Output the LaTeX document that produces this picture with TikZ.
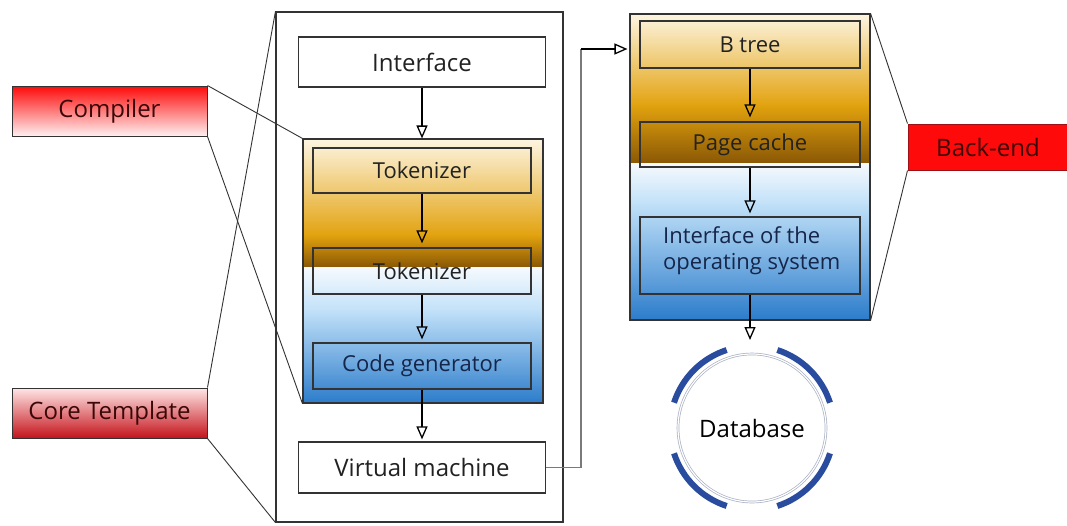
\documentclass[tikz,border=0pt]{standalone}
\usepackage{fontspec}
\setmainfont{Open Sans}
\usetikzlibrary{arrows.meta}
\definecolor{cream}{HTML}{FDF5E2}
\definecolor{gold}{HTML}{E2A20E}
\definecolor{brownish}{HTML}{8A5805}
\definecolor{paleblue}{HTML}{F6FAFE}
\definecolor{lightblue}{HTML}{C0E0F8}
\definecolor{midblue}{HTML}{2C7CCB}
\definecolor{txt}{HTML}{222222}
\definecolor{navytxt}{HTML}{16264A}
\definecolor{redtxt}{HTML}{3A0808}
\definecolor{bered}{HTML}{FF0A0A}
\definecolor{darkred}{HTML}{C4141C}
\definecolor{edge}{HTML}{333333}
\definecolor{ringgray}{HTML}{A8B0C2}
\definecolor{arcblue}{HTML}{2A4C9E}
\definecolor{linkgray}{HTML}{7A7A7A}
\begin{document}
\begin{tikzpicture}[x=1pt,y=-1pt,
  font=\fontsize{24}{28}\selectfont,
  box/.style={draw=edge, line width=1.2pt, text=txt, inner sep=0pt},
  smalltext/.style={font=\fontsize{22}{26}\selectfont},
  frame/.style={draw=edge, line width=1.1pt, inner sep=0pt},
  thin/.style={draw=edge, line width=0.9pt},
  arr/.style={draw=black, line width=1.7pt, -{Triangle[open, length=13pt, width=11pt, line width=1.3pt]}},
  label/.style={draw=edge, line width=1pt, inner sep=0pt, text=redtxt, minimum width=195pt, minimum height=50pt}
]
\useasboundingbox (0,0) rectangle (1067,525);
\fill[white] (0,0) rectangle (1067,525);

% ---- backgrounds of the two containers
\shade[top color=cream, bottom color=gold] (303,139) rectangle (543,236);
\shade[top color=gold, bottom color=brownish] (303,235) rectangle (543,267);
\shade[top color=paleblue, bottom color=lightblue] (303,267) rectangle (543,312);
\shade[top color=lightblue, bottom color=midblue] (303,311) rectangle (543,403);

\shade[top color=cream, bottom color=gold] (630,14) rectangle (870,106);
\shade[top color=gold, bottom color=brownish] (630,105) rectangle (870,163);
\shade[top color=paleblue, bottom color=lightblue] (630,163) rectangle (870,205);
\shade[top color=lightblue, bottom color=midblue] (630,204) rectangle (870,320);

% ---- containers
\node[frame, minimum width=287pt, minimum height=510pt] (big) at (419.5,267) {};
\node[frame, minimum width=240pt, minimum height=264pt] (fe) at (423,271) {};
\node[frame, minimum width=240pt, minimum height=306pt] (rc) at (750,167) {};

% ---- left column boxes
\node[box, minimum width=247pt, minimum height=50pt] (iface) at (422,62) {Interface};
\node[box, smalltext, minimum width=218pt, minimum height=45pt] (tok1) at (422,170.5) {Tokenizer};
\node[box, smalltext, minimum width=218pt, minimum height=46pt] (tok2) at (422,271) {Tokenizer};
\node[box, smalltext, text=navytxt, minimum width=218pt, minimum height=46pt] (cg) at (422,366) {Code generator};
\node[box, minimum width=247pt, minimum height=51pt] (vm) at (422,467.5) {Virtual machine};

% ---- right column boxes
\node[box, smalltext, minimum width=220pt, minimum height=47pt] (bt) at (750,44.5) {B tree};
\node[box, smalltext, minimum width=220pt, minimum height=45pt] (pc) at (750,144.5) {Page cache};
\node[box, smalltext, text=navytxt, minimum width=220pt, minimum height=77pt] (os) at (750,255.5) {};
\node[smalltext, text=navytxt, anchor=west, align=left, inner sep=0pt] (ostext) at (663,251) {Interface of the\\operating system};

% ---- labels
\node[label, top color=bered, bottom color=white!94!red] (comp) at (109.5,111) {Compiler};
\node[label, top color=white!90!red, bottom color=darkred] (core) at (109.5,413) {Core Template};
\node[label, draw=darkred!80!black, fill=bered, minimum width=160pt, minimum height=46pt] (be) at (988,147) {Back-end};

% ---- database
\node[circle, minimum size=148pt, inner sep=0pt] (db) at (752,428) {Database};
\draw[ringgray, line width=0.7pt, double=white, double distance=1.2pt] (db.center) circle (74);
\foreach \a in {18,108,198,288}
  \draw[arcblue, line width=6pt] ([shift={(\a:82)}]db.center) arc[start angle=\a, end angle=\a+54, radius=82];
\coordinate (dbtop) at ([yshift=88pt]db.center);

% ---- funnel lines
\draw[thin] (comp.north east) -- (fe.north west);
\draw[thin] (comp.south east) -- (fe.south west);
\draw[thin] (core.north east) -- (big.north west);
\draw[thin] (core.south east) -- (big.south west);
\draw[thin] (be.north west) -- (rc.north east);
\draw[thin] (be.south west) -- (rc.south east);

% ---- flow arrows
\draw[arr] (iface.south) -- (iface.south |- fe.north);
\draw[arr, shorten >=4pt] (tok1.south) -- (tok2.north);
\draw[arr, shorten >=3pt] (tok2.south) -- (cg.north);
\draw[arr, shorten >=2pt] (cg.south) -- (vm.north);
\draw[arr, shorten >=4pt] (bt.south) -- (pc.north);
\draw[arr, shorten >=3pt] (pc.south) -- (os.north);
\draw[arr] (os.south) -- (os.south |- dbtop);

% ---- link from virtual machine to B tree container
\coordinate (bend) at (581,49);
\draw[linkgray, line width=1.3pt] (vm.east) -| (bend);
\draw[arr, shorten >=2pt] (bend) -- (bend -| rc.west);
\end{tikzpicture}
\end{document}
